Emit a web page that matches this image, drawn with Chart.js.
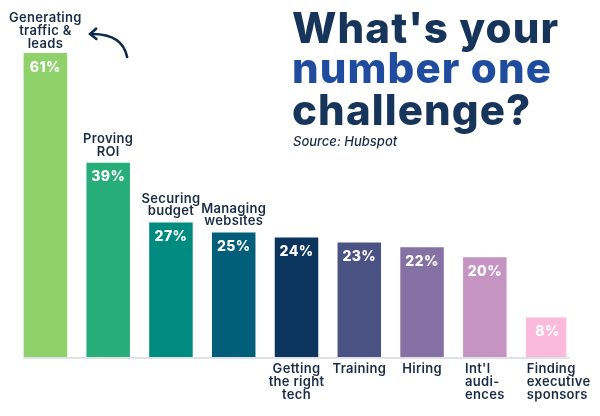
<!DOCTYPE html>
<html lang="en">
<head>
<meta charset="UTF-8">
<title>What's your number one challenge?</title>
<script src="https://cdn.jsdelivr.net/npm/chart.js@4.4.1/dist/chart.umd.min.js"></script>
<style>
  html, body { margin: 0; padding: 0; background: #fff; }
  #wrap { width: 600px; height: 416px; }
</style>
</head>
<body>
<div id="wrap"><canvas id="challengeChart" width="600" height="416"></canvas></div>
<script>
// data
const categories = [
    ['Generating', 'traffic &', 'leads'],
    ['Proving', 'ROI'],
    ['Securing', 'budget'],
    ['Managing', 'websites'],
    ['Getting', 'the right', 'tech'],
    ['Training'],
    ['Hiring'],
    ["Int'l", 'audi-', 'ences'],
    ['Finding', 'executive', 'sponsors']
];
const shares = [61, 39, 27, 25, 24, 23, 22, 20, 8];
const barColors = ['#8fd16a', '#27ad7a', '#008b80', '#035e79', '#0b355c', '#4b5384', '#8671a4', '#c594c3', '#fbb9db'];
const titleLines = ["What's your", 'number one', 'challenge?'];
const sourceText = 'Source: Hubspot';

const NAVY = '#17355a';
const TEXT = '#1c2b46';

// baseline, value labels, category labels, title and arrow
const decorPlugin = {
    id: 'decor',
    beforeDatasetsDraw(chart) {
        const ctx = chart.ctx;
        const bars = chart.getDatasetMeta(0).data;
        const y0 = chart.scales.y.getPixelForValue(0);
        const first = bars[0], last = bars[bars.length - 1];
        ctx.save();
        ctx.strokeStyle = '#dfe1e6';
        ctx.lineWidth = 2;
        ctx.beginPath();
        ctx.moveTo(first.x - first.width / 2, y0 + 1);
        ctx.lineTo(last.x + last.width / 2, y0 + 1);
        ctx.stroke();
        ctx.restore();
    },
    afterDatasetsDraw(chart) {
        const ctx = chart.ctx;
        const bars = chart.getDatasetMeta(0).data;
        const y0 = chart.scales.y.getPixelForValue(0);
        ctx.save();

        // values inside bars
        ctx.fillStyle = '#ffffff';
        ctx.font = '800 14px Inter';
        ctx.letterSpacing = '0.4px';
        ctx.textAlign = 'center';
        ctx.textBaseline = 'middle';
        bars.forEach((bar, i) => {
            ctx.fillText(shares[i] + '%', bar.x, bar.y + 14.5);
        });

        // category labels
        ctx.fillStyle = TEXT;
        ctx.font = '600 13px Inter';
        ctx.letterSpacing = '0.3px';
        ctx.textBaseline = 'alphabetic';
        const lh = 12.8;
        bars.forEach((bar, i) => {
            const lines = categories[i];
            const left = bar.x - bar.width / 2;
            let x = bar.x;
            ctx.textAlign = 'center';
            if (i >= 7) {
                const w = Math.max(...lines.map(l => ctx.measureText(l).width));
                x = Math.max(left + 1, bar.x - w / 2);
                ctx.textAlign = 'left';
            }
            if (i < 4) {
                const lastBase = bar.y - (i === 0 ? 5 : 7);
                lines.forEach((l, k) => {
                    ctx.fillText(l, x, lastBase - (lines.length - 1 - k) * lh);
                });
            } else {
                lines.forEach((l, k) => {
                    ctx.fillText(l, x, y0 + 16 + k * lh);
                });
            }
        });

        // title block
        const titleColors = [NAVY, '#1f4c9f', NAVY];
        const bases = [43, 83, 125];
        ctx.textAlign = 'left';
        ctx.font = '800 42px Inter';
        ctx.letterSpacing = '1.1px';
        titleLines.forEach((t, k) => {
            ctx.fillStyle = titleColors[k];
            ctx.fillText(t, 292, bases[k]);
        });
        ctx.fillStyle = TEXT;
        ctx.font = 'italic 500 13px Inter';
        ctx.letterSpacing = '0px';
        ctx.fillText(sourceText, 293, 146);

        // curved arrow pointing at the top bar
        const b = bars[0];
        const r = b.x + b.width / 2;
        const sx = r + 60, sy = b.y + 4;
        const cx = r + 55, cy = b.y - 20;
        const ex = r + 23, ey = b.y - 19;
        ctx.strokeStyle = '#0f2a4a';
        ctx.lineWidth = 2.6;
        ctx.lineCap = 'round';
        ctx.beginPath();
        ctx.moveTo(sx, sy);
        ctx.quadraticCurveTo(cx, cy, ex, ey);
        ctx.stroke();
        const ang = Math.atan2(ey - cy, ex - cx);
        ctx.beginPath();
        ctx.moveTo(ex + 8 * Math.cos(ang + Math.PI - 0.7), ey + 8 * Math.sin(ang + Math.PI - 0.7));
        ctx.lineTo(ex, ey);
        ctx.lineTo(ex + 8 * Math.cos(ang + Math.PI + 0.7), ey + 8 * Math.sin(ang + Math.PI + 0.7));
        ctx.stroke();

        ctx.restore();
    }
};

new Chart(document.getElementById('challengeChart'), {
    type: 'bar',
    data: {
        labels: categories,
        datasets: [{
            data: shares,
            backgroundColor: barColors,
            borderColor: '#ffffff',
            borderWidth: c => c.dataIndex === shares.length - 1 ? { right: 3 } : 0,
            borderSkipped: false,
            barPercentage: 0.693,
            categoryPercentage: 1
        }]
    },
    options: {
        responsive: false,
        animation: false,
        layout: { padding: { left: 14, right: 21, top: 53, bottom: 59 } },
        scales: {
            x: { display: false },
            y: { display: false, min: 0, max: 61 }
        },
        plugins: {
            legend: { display: false },
            tooltip: { enabled: false }
        }
    },
    plugins: [decorPlugin]
});
</script>
</body>
</html>
